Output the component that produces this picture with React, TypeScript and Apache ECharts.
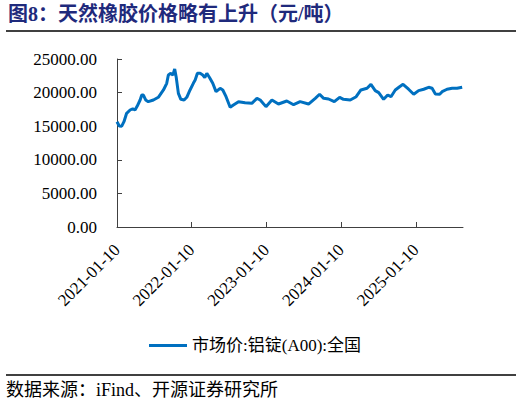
import React, { useEffect, useRef } from "react";
import * as echarts from "echarts";

const dates = [
  "2021-01-10", "2021-01-21", "2021-02-02", "2021-02-13", "2021-02-26", "2021-03-15",
  "2021-03-28", "2021-04-08", "2021-04-19", "2021-05-03", "2021-05-11", "2021-05-19",
  "2021-05-30", "2021-06-12", "2021-07-07", "2021-07-31", "2021-08-25", "2021-09-10",
  "2021-09-18", "2021-09-30", "2021-10-10", "2021-10-19", "2021-10-26", "2021-11-06",
  "2021-11-18", "2021-12-04", "2021-12-17", "2022-01-02", "2022-01-18", "2022-01-27",
  "2022-02-07", "2022-02-20", "2022-03-05", "2022-03-15", "2022-03-25", "2022-04-07",
  "2022-04-23", "2022-05-09", "2022-05-29", "2022-06-11", "2022-06-27", "2022-07-17",
  "2022-08-02", "2022-08-27", "2022-09-28", "2022-10-31", "2022-11-25", "2022-12-11",
  "2023-01-08", "2023-02-06", "2023-03-10", "2023-04-20", "2023-05-23", "2023-06-24",
  "2023-08-04", "2023-09-06", "2023-09-27", "2023-10-17", "2023-11-10", "2023-12-08",
  "2024-01-03", "2024-01-22", "2024-02-24", "2024-03-24", "2024-04-16", "2024-05-16",
  "2024-06-04", "2024-06-25", "2024-07-12", "2024-08-05", "2024-08-25", "2024-09-10",
  "2024-10-01", "2024-10-22", "2024-11-08", "2024-12-05", "2024-12-30", "2025-01-23",
  "2025-02-17", "2025-03-13", "2025-03-30", "2025-04-15", "2025-05-06", "2025-05-18",
  "2025-06-11", "2025-07-06", "2025-07-30", "2025-08-24",
];

const prices = [
  15670, 15030, 15000, 15670, 16920, 17410,
  17600, 17410, 18000, 18900, 19640, 19640,
  18900, 18650, 18900, 19300, 20390, 21380,
  22620, 22870, 22620, 23510, 22370, 19890,
  19000, 18900, 19300, 20390, 21380, 21870,
  22870, 22870, 22620, 22250, 22870, 22250,
  21380, 20140, 20640, 20390, 19390, 17810,
  18150, 18650, 18500, 18400, 19150, 18900,
  17910, 18900, 18300, 18750, 18200, 18650,
  18300, 19150, 19750, 19150, 19050, 18650,
  19300, 19000, 18900, 19390, 20390, 20640,
  21230, 20300, 20000, 19000, 19640, 19390,
  20390, 20880, 21230, 20500, 19750, 20300,
  20500, 20790, 20640, 19800, 19750, 20140,
  20500, 20640, 20640, 20790,
];

const tickDates = ["2021-01-10", "2022-01-10", "2023-01-10", "2024-01-10", "2025-01-10"];
const axisStart = "2021-01-10";
const axisEnd = "2025-08-28";
const yTicks = [0, 5000, 10000, 15000, 20000, 25000];

const seriesName = "市场价:铝锭(A00):全国";
const titleText = "图8：天然橡胶价格略有上升（元/吨）";
const sourceText = "数据来源：iFind、开源证券研究所";

const toTs = (s: string) => {
  const [y, m, d] = s.split("-").map(Number);
  return Date.UTC(y, m - 1, d);
};
const pad = (n: number) => (n < 10 ? "0" + n : "" + n);
const fmt = (t: number) => {
  const d = new Date(t);
  return `${d.getUTCFullYear()}-${pad(d.getUTCMonth() + 1)}-${pad(d.getUTCDate())}`;
};

const FONT = '"Liberation Serif", "Noto Sans CJK SC", serif';

export default function App() {
  const ref = useRef<HTMLDivElement>(null);
  useEffect(() => {
    document.body.style.margin = "0";
    if (!ref.current) return;
    const chart = echarts.init(ref.current, null, { renderer: "svg" });
    const tickTs = tickDates.map(toTs);
    const data = dates.map((d, i) => [toTs(d), prices[i]]);
    chart.setOption({
      animation: false,
      backgroundColor: "#ffffff",
      grid: { left: 117, right: 59, top: 59, bottom: 178, containLabel: false },
      xAxis: {
        type: "value",
        min: toTs(axisStart),
        max: toTs(axisEnd),
        axisLine: { show: true, lineStyle: { color: "#404040", width: 1 } },
        axisTick: {
          show: true,
          inside: true,
          length: 5,
          customValues: tickTs,
          lineStyle: { color: "#404040", width: 1 },
        },
        axisLabel: {
          customValues: tickTs,
          rotate: 45,
          margin: 20,
          fontFamily: FONT,
          fontSize: 17,
          color: "#000",
          formatter: (v: number) => fmt(v),
        },
        splitLine: { show: false },
      },
      yAxis: {
        type: "value",
        min: yTicks[0],
        max: yTicks[yTicks.length - 1],
        interval: 5000,
        axisLine: { show: true, lineStyle: { color: "#404040", width: 1 } },
        axisTick: { show: true, inside: true, length: 5, lineStyle: { color: "#404040", width: 1 } },
        axisLabel: {
          margin: 20,
          fontFamily: FONT,
          fontSize: 17,
          color: "#000",
          formatter: (v: number) => v.toFixed(2),
        },
        splitLine: { show: false },
      },
      legend: {
        left: 144,
        top: 332,
        icon: "rect",
        itemWidth: 38,
        itemHeight: 3,
        itemGap: 5,
        textStyle: { fontFamily: FONT, fontSize: 17, color: "#000" },
        data: [seriesName],
      },
      series: [
        {
          name: seriesName,
          type: "line",
          data,
          symbol: "none",
          showSymbol: false,
          lineStyle: { color: "#0070C0", width: 3 },
          itemStyle: { color: "#0070C0" },
        },
      ],
      graphic: [
        {
          type: "text",
          left: 8,
          top: 4,
          style: {
            text: titleText,
            font: 'bold 20px "Liberation Serif", "Noto Sans CJK SC", serif',
            fill: "#1F2A7C",
          },
        },
        {
          type: "line",
          shape: { x1: 6, y1: 31, x2: 516, y2: 31 },
          style: { stroke: "#000", lineWidth: 1.5 },
        },
        {
          type: "line",
          shape: { x1: 6, y1: 375, x2: 516, y2: 375 },
          style: { stroke: "#000", lineWidth: 1.5 },
        },
        {
          type: "text",
          left: 6,
          top: 381,
          style: {
            text: sourceText,
            font: '18px "Liberation Serif", "Noto Sans CJK SC", serif',
            fill: "#000",
          },
        },
      ],
    });
    return () => chart.dispose();
  }, []);
  return <div ref={ref} style={{ width: 522, height: 405 }} />;
}
